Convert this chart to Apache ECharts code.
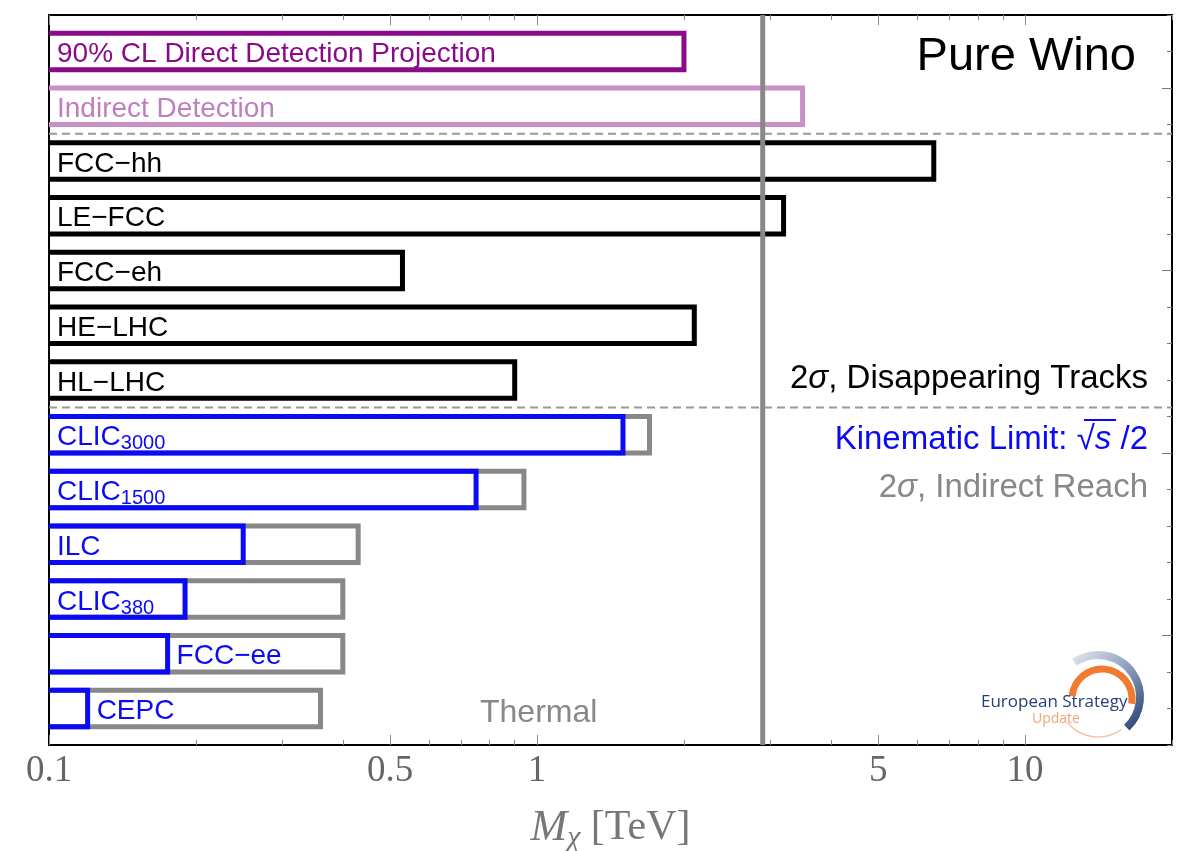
<!DOCTYPE html>
<html>
<head>
<meta charset="utf-8">
<title>Pure Wino</title>
<script src="https://cdn.jsdelivr.net/npm/echarts@6/dist/echarts.min.js"></script>
<style>
html, body { margin: 0; padding: 0; background: #fff; }
#main { width: 1181px; height: 851px; }
</style>
</head>
<body>
<div id="main"></div>
<script>
// rows, top to bottom
var names = ['90% CL Direct Detection Projection', 'Indirect Detection',
    'FCC\u2212hh', 'LE\u2212FCC', 'FCC\u2212eh', 'HE\u2212LHC', 'HL\u2212LHC',
    'CLIC', 'CLIC', 'ILC', 'CLIC', 'FCC\u2212ee', 'CEPC'];
var subs = ['', '', '', '', '', '', '', '3000', '1500', '', '380', '', ''];
var kinds = ['direct', 'indirect', 'pp', 'pp', 'pp', 'pp', 'pp',
    'ee', 'ee', 'ee', 'ee', 'ee', 'ee'];
// 2 sigma reach (TeV)
var reach = [2.0, 3.5, 6.5, 3.2, 0.53, 2.1, 0.9, 1.7, 0.94, 0.43, 0.40, 0.40, 0.36];
// kinematic limit sqrt(s)/2 (TeV), lepton colliders only
var kinLimit = [null, null, null, null, null, null, null, 1.5, 0.75, 0.25, 0.19, 0.175, 0.12];
var labelAfterKin = ['FCC\u2212ee', 'CEPC'];
var thermalMass = 2.9;
var xMin = 0.1, xMax = 20;
var xMajor = [0.1, 0.5, 1, 5, 10];
var xMinor = [0.2, 0.3, 0.4, 0.6, 0.7, 0.8, 0.9, 2, 3, 4, 6, 7, 8, 9, 20];

var colors = { direct: '#8a0a8a', indirect: '#c890c8', pp: '#000000', ee: '#888888', kin: '#0a0af5' };
var labelColors = { direct: '#8a0a8a', indirect: '#c07ec0', pp: '#000000', ee: '#0a0af5' };

var LOG = function (v) { return Math.log10(v); };
var rowY = function (i) { return 19 - 1.5 * i; };
// dashed separators between groups of rows
var separators = [(rowY(1) + rowY(2)) / 2, (rowY(6) + rowY(7)) / 2];

var FONT = 'Liberation Sans, Arial, sans-serif';
var SERIF = 'Liberation Serif, Times New Roman, serif';

function renderBar(params, api) {
    var i = params.dataIndex;
    var y = rowY(i);
    var base = api.coord([LOG(xMin), y]);
    var top = api.coord([LOG(xMin), y + 0.5])[1];
    var bot = api.coord([LOG(xMin), y - 0.5])[1];
    var x0 = base[0] - 6;
    var xr = api.coord([LOG(reach[i]), y])[0];
    var children = [{
        type: 'rect',
        shape: { x: x0, y: top, width: xr - x0, height: bot - top },
        style: { fill: 'none', stroke: colors[kinds[i]], lineWidth: 5 }
    }];
    var labelX = base[0] + 8;
    if (kinLimit[i] != null) {
        var xk = api.coord([LOG(kinLimit[i]), y])[0];
        children.push({
            type: 'rect',
            shape: { x: x0, y: top, width: xk - x0, height: bot - top },
            style: { fill: 'none', stroke: colors.kin, lineWidth: 5 }
        });
        if (labelAfterKin.indexOf(names[i]) >= 0) labelX = xk + 9;
    }
    var c = labelColors[kinds[i]];
    var txt = '{b|' + names[i] + '}' + (subs[i] ? '{s|' + subs[i] + '}' : '');
    children.push({
        type: 'text',
        x: labelX, y: (top + bot) / 2 + 3,
        style: {
            text: txt, fill: c, align: 'left', verticalAlign: 'middle',
            rich: {
                b: { fontSize: 28, lineHeight: 32, fontFamily: FONT, fill: c },
                s: { fontSize: 20, lineHeight: 20, verticalAlign: 'bottom', fontFamily: FONT, fill: c }
            }
        }
    });
    return { type: 'group', children: children };
}

function xAxisCfg(pos, ticks, len, showLine, showLabels) {
    return {
        type: 'value', position: pos, min: LOG(xMin), max: LOG(xMax),
        splitLine: { show: false },
        axisLine: { show: showLine, onZero: false, lineStyle: { color: '#000', width: 2 } },
        axisTick: { show: true, inside: true, length: len, customValues: ticks.map(LOG),
            lineStyle: { color: '#888', width: 1 } },
        axisLabel: {
            show: showLabels, customValues: ticks.map(LOG), margin: 8,
            fontFamily: SERIF, fontSize: 37, color: '#666',
            formatter: function (v) { return String(+Math.pow(10, v).toPrecision(2)); }
        },
        name: showLabels ? '{m|M}{c|\u03c7}{t| [TeV]}' : '',
        nameLocation: 'middle', nameGap: 58,
        nameTextStyle: {
            color: '#777',
            rich: {
                m: { fontFamily: SERIF, fontSize: 44, fontStyle: 'italic', color: '#777', lineHeight: 50 },
                c: { fontFamily: SERIF, fontSize: 30, fontStyle: 'italic', color: '#777', lineHeight: 28, verticalAlign: 'bottom' },
                t: { fontFamily: SERIF, fontSize: 42, color: '#777', lineHeight: 50 }
            }
        }
    };
}

var yBase = { type: 'value', min: 0, max: 20, splitLine: { show: false }, axisLabel: { show: false } };

var lineSeries = separators.map(function (s) {
    return {
        type: 'line', data: [[LOG(xMin), s], [LOG(xMax), s]], symbol: 'none', silent: true, z: 1,
        lineStyle: { color: '#999', width: 2, type: [8, 5] }
    };
});
lineSeries.push({
    type: 'line', data: [[LOG(thermalMass), 0], [LOG(thermalMass), 20]], symbol: 'none', silent: true, z: 5,
    lineStyle: { color: '#888', width: 5 }
});

function note(text, x, y, size, color, align, rich) {
    return { type: 'text', x: x, y: y, style: { text: text, fill: color, font: size + 'px ' + FONT,
        align: align, textAlign: align, verticalAlign: 'middle', textVerticalAlign: 'middle', rich: rich } };
}
var italic = function (size, color) { return { fontStyle: 'italic', fontSize: size, fontFamily: FONT, fill: color }; };

var chart = echarts.init(document.getElementById('main'));
chart.setOption({
    animation: false,
    grid: { left: 49, right: 9, top: 15, bottom: 106, containLabel: false, outerBoundsMode: 'none' },
    xAxis: [
        xAxisCfg('bottom', xMajor, 10, true, true),
        xAxisCfg('bottom', xMinor, 5, false, false),
        xAxisCfg('top', xMajor, 10, true, false),
        xAxisCfg('top', xMinor, 5, false, false)
    ],
    yAxis: [
        Object.assign({}, yBase, { position: 'left', axisLine: { show: true, onZero: false, lineStyle: { color: '#000', width: 2 } }, axisTick: { show: false } }),
        Object.assign({}, yBase, { position: 'right', interval: 1, axisLine: { show: true, onZero: false, lineStyle: { color: '#000', width: 2 } },
            axisTick: { show: true, inside: true, length: 5, lineStyle: { color: '#777' } } }),
        Object.assign({}, yBase, { position: 'right', axisLine: { show: false, onZero: false },
            axisTick: { show: true, inside: true, length: 10, customValues: [3, 8, 13, 18], lineStyle: { color: '#777' } } })
    ],
    series: [{
        type: 'custom', clip: true, z: 3,
        data: names.map(function (n, i) { return [LOG(reach[i]), rowY(i)]; }),
        encode: { x: 0, y: 1 },
        renderItem: renderBar
    }].concat(lineSeries),
    graphic: [
        note('Pure Wino', 1136, 57, 47, '#000', 'right'),
        note('2{g|\u03c3}, Disappearing Tracks', 1148, 379, 33, '#000', 'right', { g: italic(33, '#000') }),
        note('Kinematic Limit: \u221a{s|s} /2', 1148, 440, 33, colors.kin, 'right', { s: italic(33, colors.kin) }),
        { type: 'line', shape: { x1: 1084, y1: 420, x2: 1116, y2: 420 }, style: { stroke: colors.kin, lineWidth: 2 } },
        note('2{g|\u03c3}, Indirect Reach', 1148, 488, 33, '#888', 'right', { g: italic(33, '#888') }),
        note('Thermal', 480, 713, 32, '#888', 'left'),
        // European Strategy Update logo
        { type: 'arc', shape: { cx: 1098, cy: 697, r: 42, startAngle: Math.PI * 1.31, endAngle: Math.PI * 2.26, clockwise: true },
            style: { fill: 'none', lineWidth: 8, stroke: { type: 'linear', x: 0, y: 0, x2: 1, y2: 1, colorStops: [{ offset: 0, color: '#e8ecf3' }, { offset: 0.5, color: '#8797b8' }, { offset: 1, color: '#1f3a6e' }] } } },
        { type: 'arc', shape: { cx: 1102, cy: 699, r: 30, startAngle: Math.PI * 1.03, endAngle: Math.PI * 2.05, clockwise: true },
            style: { fill: 'none', lineWidth: 7, stroke: '#f07a30' } },
        { type: 'arc', shape: { cx: 1098, cy: 697, r: 40, startAngle: Math.PI * 0.3, endAngle: Math.PI * 0.78, clockwise: true },
            style: { fill: 'none', lineWidth: 1.5, stroke: '#f8c4a4' } },
        { type: 'text', x: 981, y: 702, style: { text: 'European Strategy', fill: '#27407a', font: '17px Open Sans, sans-serif', align: 'left', textAlign: 'left', verticalAlign: 'middle', textVerticalAlign: 'middle' } },
        { type: 'text', x: 1032, y: 719, style: { text: 'Update', fill: '#f4a27a', font: '14px Open Sans, sans-serif', align: 'left', textAlign: 'left', verticalAlign: 'middle', textVerticalAlign: 'middle' } }
    ]
});
</script>
</body>
</html>
